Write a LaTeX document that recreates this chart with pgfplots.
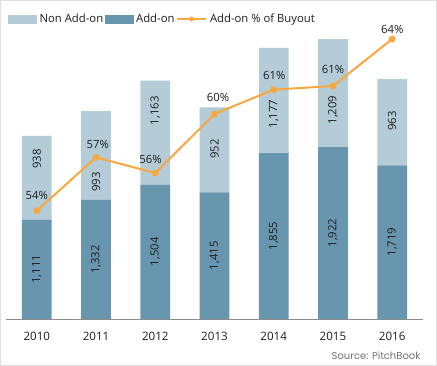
\documentclass[border=0pt]{standalone}
\usepackage{pgfplots}
\pgfplotsset{compat=1.18}
\usepackage{fontspec}
\setmainfont{Open Sans}
\newfontfamily\srcfont{Poppins}
\definecolor{lightc}{HTML}{B4CCD7}
\definecolor{darkc}{HTML}{6996AF}
\definecolor{orangec}{HTML}{F8A83E}
\definecolor{textc}{HTML}{1E1E1E}
\pgfplotsset{
  common/.style={
    at={(6pt,47pt)}, anchor=south west,
    scale only axis, width=417pt, height=289pt,
    xmin=-0.52, xmax=6.52, clip=false,
  }
}
\begin{document}
\begin{tikzpicture}[font=\fontsize{11.3}{13}\selectfont, text=textc]
\useasboundingbox (0,0) rectangle (437pt,366pt);
\fill[white] (0,0) rectangle (437pt,366pt);
\draw[black!12, line width=1pt] (0.5pt,0.5pt) rectangle (436.5pt,365.5pt);

% bars
\begin{axis}[common,
  ymin=0, ymax=3232,
  ybar stacked, bar width=0.5,
  axis x line*=bottom, axis y line=none,
  x axis line style={draw=black!45, line width=0.8pt, -},
  xtick={0,1,2,3,4,5,6},
  xticklabels={2010,2011,2012,2013,2014,2015,2016},
  major tick length=0pt, ytick=\empty,
  xticklabel style={yshift=-10pt, text=textc, font=\fontsize{11.6}{13}\selectfont},
  legend style={at={(0,1)}, anchor=west, xshift=2pt, yshift=11pt,
    draw=none, fill=none, inner sep=0pt, legend columns=3,
    nodes={inner xsep=1.5pt, text=textc},
    /tikz/every odd column/.append style={column sep=1.5pt}},
]
\addplot[fill=darkc, draw=none, forget plot] coordinates {(0,1111)(1,1332)(2,1504)(3,1415)(4,1855)(5,1922)(6,1719)};
\addplot[fill=lightc, draw=none, forget plot] coordinates {(0,938)(1,993)(2,1163)(3,952)(4,1177)(5,1209)(6,963)};
\addlegendimage{legend image code/.code={\fill[lightc] (0pt,-4pt) rectangle (28pt,4pt);}}
\addlegendentry{Non Add-on}
\addlegendimage{legend image code/.code={\fill[darkc] (0pt,-4pt) rectangle (28pt,4pt);}}
\addlegendentry{Add-on}
\addlegendimage{legend image code/.code={\draw[orangec, line width=2pt] (0pt,0pt) -- (29pt,0pt); \fill[orangec] (14.5pt,0pt) circle (2.2pt);}}
\addlegendentry{Add-on \% of Buyout}
\end{axis}

% percentage line
\begin{axis}[common, ymin=48.0, ymax=64.61, hide axis]
\addplot[orangec, line width=2pt, mark=*, mark size=2.4pt, mark options={fill=orangec, draw=none}] table {
x y
0 54.22
1 57.29
2 56.39
3 59.78
4 61.18
5 61.39
6 64.09
};
\end{axis}

% data labels
\begin{axis}[common, ymin=0, ymax=3232, hide axis]
\addplot[draw=none, nodes near coords, point meta=explicit symbolic,
  every node near coord/.style={rotate=90, anchor=center, inner sep=0pt, text=textc}] table[meta=lab] {
x y lab
0 555.5 1,111
1 666 1,332
2 752 1,504
3 707.5 1,415
4 927.5 1,855
5 961 1,922
6 859.5 1,719
0 1789 938
1 1532 993
2 2329 1,163
3 1901 952
4 2293 1,177
5 2337 1,209
6 2214 963
};
\addplot[draw=none, nodes near coords={\pgfplotspointmeta\%}, point meta=explicit symbolic,
  every node near coord/.style={anchor=center, inner sep=0pt, text=textc}] table[meta=lab] {
x y lab
0 1387 54
1.03 1957 57
1.92 1789 56
3.06 2475 60
4.01 2729 61
5.0 2796 61
6.0 3243 64
};
\end{axis}

\node[anchor=east, text=black!55, font=\srcfont\fontsize{10}{11}\selectfont] at (424pt,10pt) {Source: PitchBook};
\end{tikzpicture}
\end{document}
